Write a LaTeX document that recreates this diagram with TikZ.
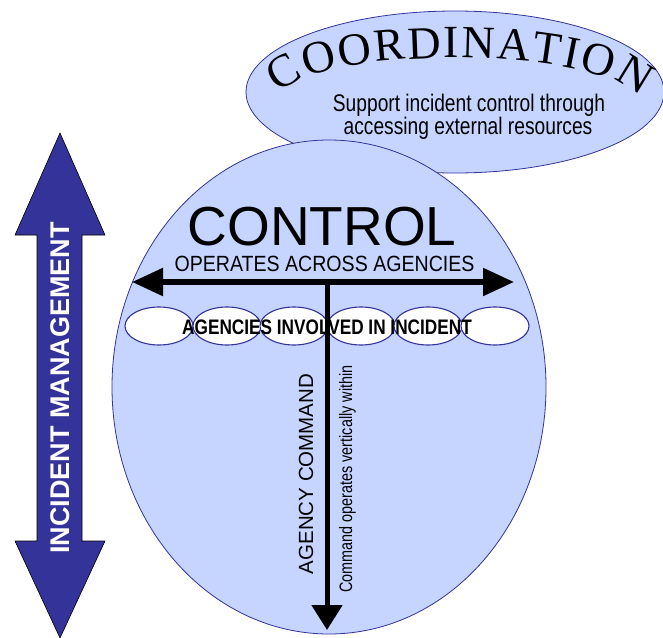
\documentclass[tikz,border=0pt]{standalone}
\usepackage{fontspec}
\setmainfont{Liberation Sans}
\newfontfamily\coordfont{Liberation Serif}
\usepackage{graphicx}
\usetikzlibrary{arrows.meta,decorations.text,shapes.geometric}
\definecolor{lightfill}{RGB}{197,213,255}
\definecolor{navy}{RGB}{51,51,153}
\newcommand{\narrowtext}[2]{\scalebox{#1}[1]{#2}}
\begin{document}
\begin{tikzpicture}[x=1pt,y=-1pt,
  bigoval/.style={ellipse, draw=navy, line width=0.8pt, fill=lightfill, inner sep=0pt},
  agency/.style={ellipse, draw=navy, line width=1.1pt, fill=white, inner sep=0pt, minimum width=68pt, minimum height=38pt},
  txt/.style={inner sep=0pt, anchor=base, text=black}]
\useasboundingbox (0,0) rectangle (663,637);

% left double arrow
\draw[fill=navy, draw=black, line width=0.6pt]
  (60,133) -- (105,235) -- (82,235) -- (82,541) -- (105,541) -- (60,638)
  -- (15,541) -- (37,541) -- (37,235) -- (15,235) -- cycle;
\node[txt, rotate=90, text=white, font=\fontsize{27}{27}\selectfont\bfseries] (im) at (69.5,388) {INCIDENT MANAGEMENT};

% coordination ellipse
\node[bigoval, minimum width=418pt, minimum height=162pt] (coord) at (455,92) {};
\path[decorate, decoration={text along path, text align=fit to path,
  text={|\coordfont\fontsize{46}{46}\selectfont|COORDINATION}}]
  (279,94) .. controls (318,46) and (594,44) .. (640,98);
\node[txt, font=\fontsize{24}{24}\selectfont] (sup1) at (469,111) {\narrowtext{0.8}{Support incident control through}};
\node[txt, font=\fontsize{24}{24}\selectfont] (sup2) at (468,134) {\narrowtext{0.8}{accessing external resources}};

% control ellipse
\node[bigoval, minimum width=434pt, minimum height=494pt] (ctrl) at (329,387) {};
\node[txt, font=\fontsize{55}{55}\selectfont] (ctl) at (322,245) {CONTROL};
\node[txt, font=\fontsize{22}{22}\selectfont] (ops) at (324.5,271) {\narrowtext{0.89}{OPERATES ACROSS AGENCIES}};

% agencies
\node[agency] (a1) at (159,326) {};
\node[agency] (a2) at (227,326) {};
\node[agency] (a3) at (294,326) {};
\node[agency] (a4) at (361,326) {};
\node[agency] (a5) at (428,326) {};
\node[agency] (a6) at (495,326) {};

% arrows
\coordinate (hl) at (132,282);
\coordinate (hr) at (514,282);
\coordinate (vt) at (327,282);
\coordinate (vb) at (327,630);
\draw[line width=5.5pt, {Triangle[length=31pt,width=27pt]}-{Triangle[length=31pt,width=27pt]}] (hl) -- (hr);
\draw[line width=5pt, -{Triangle[length=25pt,width=30pt]}] (vt) -- (vb);

\node[txt, font=\fontsize{21}{21}\selectfont\bfseries] (inv) at (327,334) {\narrowtext{0.82}{AGENCIES INVOLVED IN INCIDENT}};

\node[txt, rotate=90, font=\fontsize{20.5}{20.5}\selectfont] (agc) at (313,474) {AGENCY COMMAND};
\node[txt, rotate=90, font=\fontsize{18}{18}\selectfont] (cmd) at (352,479) {\narrowtext{0.8}{Command operates vertically within}};
\end{tikzpicture}
\end{document}
